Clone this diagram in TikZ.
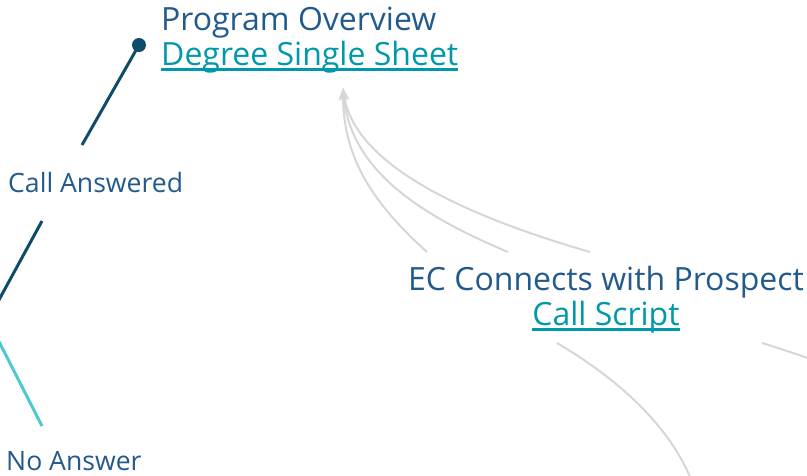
\documentclass[tikz,border=0pt]{standalone}
\usepackage{fontspec}
\setmainfont{Open Sans}
\usetikzlibrary{arrows.meta,calc}
\definecolor{textblue}{HTML}{235A8C}
\definecolor{linkteal}{HTML}{0099A8}
\definecolor{darkline}{HTML}{0F4C6B}
\definecolor{cyanline}{HTML}{4FC8CF}
\definecolor{grayline}{HTML}{D6D6D6}
\newcommand\mylink[1]{\setbox0\hbox{#1}\rlap{\rule[-6pt]{\wd0}{3pt}}\box0}
\tikzset{
  bigtext/.style={inner sep=0pt, text=textblue, font=\fontsize{32}{38}\selectfont},
  linktext/.style={inner sep=0pt, text=linkteal, font=\fontsize{32}{38}\selectfont},
  smalltext/.style={inner sep=0pt, text=textblue, font=\fontsize{26.6}{32}\selectfont},
  branchdark/.style={draw=darkline, line width=3pt},
  branchcyan/.style={draw=cyanline, line width=3pt},
  flow/.style={draw=grayline, line width=2pt},
  flowarrow/.style={flow, -{Stealth[length=12pt,width=9pt]}}
}
\begin{document}
\begin{tikzpicture}[x=1pt,y=-1pt]
\useasboundingbox (0,0) rectangle (807,475);
\clip (0,0) rectangle (807,475);

% text nodes
\node[bigtext, anchor=base west] (prog) at (161,30) {Program Overview};
\node[linktext, anchor=base west] (degree) at (161,65) {\mylink{Degree Single Sheet}};
\node[bigtext, anchor=base] (ec) at (606,290) {EC Connects with Prospect};
\node[linktext, anchor=base] (script) at (606,325) {\mylink{Call Script}};
\node[smalltext, anchor=base west] (answered) at (8,192) {Call Answered};
\node[smalltext, anchor=base west] (noanswer) at (6,470) {No Answer};

% coordinates
\coordinate (dot) at (139,45);
\coordinate (anstop) at (82,145);
\coordinate (ansbot) at (42,221);
\coordinate (root) at (-12,320);
\coordinate (natop) at (42,426);
\coordinate (tip) at (343,88);
\coordinate (s1) at (427,252);
\coordinate (s2) at (508,252);
\coordinate (s3) at (590,252);
\coordinate (b1) at (557,343);
\coordinate (b1end) at (695,490);
\coordinate (b2) at (762,343);
\coordinate (b2end) at (830,366);

% dark branch to Program Overview
\draw[branchdark] (anstop) -- (dot);
\fill[darkline] (dot) circle (7pt);
\draw[branchdark] (ansbot) -- (root);
\draw[branchcyan] (root) -- (natop);

% gray flows into Degree Single Sheet
\draw[flowarrow] (s1) .. controls (375,205) and (343,160) .. (tip);
\draw[flowarrow] (s2) .. controls (420,215) and (350,170) .. (tip);
\draw[flowarrow] (s3) .. controls (480,220) and (355,170) .. (tip);

% gray flows out of Call Script
\draw[flow] (b1) .. controls (620,380) and (675,430) .. (b1end);
\draw[flow] (b2) .. controls (785,350) and (805,357) .. (b2end);
\end{tikzpicture}
\end{document}
